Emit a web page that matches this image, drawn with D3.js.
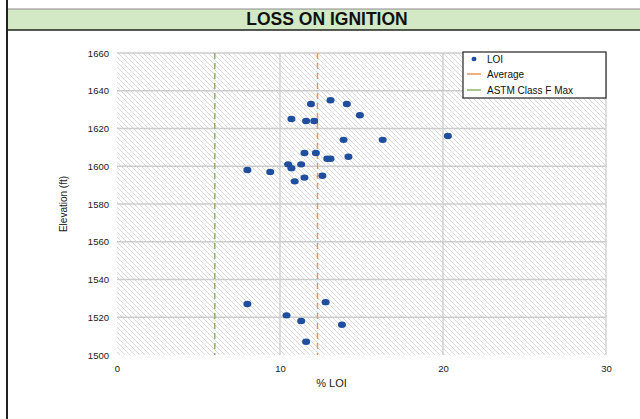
<!DOCTYPE html>
<html>
<head>
<meta charset="utf-8">
<script src="https://cdn.jsdelivr.net/npm/d3@7"></script>
<style>
  body { margin: 0; background: #ffffff; }
  svg { display: block; font-family: "Liberation Sans", Arial, sans-serif; }
</style>
</head>
<body>
<div id="chart"></div>
<script>
// LOI readings, % vs elevation (ft)
const loiValues = [11.9, 13.1, 14.1, 14.9, 10.7, 11.6, 12.1, 13.9, 16.3, 20.3,
    11.5, 12.2, 12.9, 13.1, 14.2, 10.5, 10.7, 11.3, 8.0, 9.4, 11.5, 12.6, 10.9,
    8.0, 12.8, 10.4, 11.3, 13.8, 11.6];
const elevations = [1633, 1635, 1633, 1627, 1625, 1624, 1624, 1614, 1614, 1616,
    1607, 1607, 1604, 1604, 1605, 1601, 1599, 1601, 1598, 1597, 1594, 1595, 1592,
    1527, 1528, 1521, 1518, 1516, 1507];
const averageLoi = [12.3];
const astmClassFMax = [6];
const xTicks = [0, 10, 20, 30];
const yTicks = [1500, 1520, 1540, 1560, 1580, 1600, 1620, 1640, 1660];
const legendLabels = ['LOI', 'Average', 'ASTM Class F Max'];

const width = 640, height = 419;
const plotLeft = 117, plotRight = 606, plotTop = 53, plotBottom = 355;

let svg = d3.select('#chart').append('svg')
    .attr('width', width)
    .attr('height', height);

// hatch pattern for the plot background
let defs = svg.append('defs');
let pat = defs.append('pattern')
    .attr('id', 'hatch')
    .attr('patternUnits', 'userSpaceOnUse')
    .attr('width', 5)
    .attr('height', 5);
pat.append('rect').attr('width', 5).attr('height', 5).attr('fill', '#ffffff');
pat.append('path')
    .attr('d', 'M-1,-1 L6,6 M-1,4 L1,6 M4,-1 L6,1')
    .attr('stroke', '#cfcfcf')
    .attr('stroke-width', 0.8);

// title band
svg.append('rect')
    .attr('x', 8).attr('y', 9)
    .attr('width', width - 8).attr('height', 21)
    .attr('fill', '#d3e8c4');
svg.append('line')
    .attr('x1', 8).attr('x2', width).attr('y1', 9).attr('y2', 9)
    .attr('stroke', '#8a8a8a').attr('stroke-width', 1);
svg.append('line')
    .attr('x1', 8).attr('x2', width).attr('y1', 30).attr('y2', 30)
    .attr('stroke', '#222').attr('stroke-width', 1.5);
svg.append('line')
    .attr('x1', 7).attr('x2', 7).attr('y1', 0).attr('y2', height)
    .attr('stroke', '#222').attr('stroke-width', 2);
svg.append('text')
    .attr('x', 327).attr('y', 25)
    .attr('text-anchor', 'middle')
    .attr('font-size', 17.5)
    .attr('font-weight', 'bold')
    .attr('fill', '#111')
    .text('LOSS ON IGNITION');

let x = d3.scaleLinear().domain([0, 30]).range([plotLeft, plotRight]);
let y = d3.scaleLinear().domain([1500, 1660]).range([plotBottom, plotTop]);

// plot area
svg.append('rect')
    .attr('x', plotLeft).attr('y', plotTop)
    .attr('width', plotRight - plotLeft).attr('height', plotBottom - plotTop)
    .attr('fill', 'url(#hatch)');

// gridlines
svg.append('g')
    .selectAll('line')
    .data(yTicks.filter(d => d > 1500))
    .enter().append('line')
    .attr('x1', plotLeft).attr('x2', plotRight)
    .attr('y1', d => y(d)).attr('y2', d => y(d))
    .attr('stroke', '#cccccc').attr('stroke-width', 1.3);
svg.append('g')
    .selectAll('line')
    .data(xTicks.filter(d => d > 0))
    .enter().append('line')
    .attr('x1', d => x(d)).attr('x2', d => x(d))
    .attr('y1', plotTop).attr('y2', plotBottom)
    .attr('stroke', '#cccccc').attr('stroke-width', 1.3);

// axes (labels only)
let yAxis = svg.append('g')
    .attr('transform', 'translate(' + (plotLeft - 8) + ',0)')
    .call(d3.axisLeft(y).tickValues(yTicks).tickFormat(d3.format('d')).tickSize(0).tickPadding(0));
let xAxis = svg.append('g')
    .attr('transform', 'translate(0,' + (plotBottom + 10) + ')')
    .call(d3.axisBottom(x).tickValues(xTicks).tickFormat(d3.format('d')).tickSize(0).tickPadding(0));
[yAxis, xAxis].forEach(function (a) {
    a.select('.domain').remove();
    a.selectAll('text')
        .attr('font-size', 9.5)
        .attr('font-family', '"Liberation Sans", Arial, sans-serif')
        .attr('fill', '#1a1a1a');
});
xAxis.selectAll('text').attr('dy', '0.71em');

svg.append('text')
    .attr('transform', 'translate(67,' + ((plotTop + plotBottom) / 2) + ') rotate(-90)')
    .attr('text-anchor', 'middle')
    .attr('font-size', 10)
    .attr('fill', '#1a1a1a')
    .text('Elevation (ft)');
svg.append('text')
    .attr('x', (plotLeft + plotRight) / 2 - 30).attr('y', 387)
    .attr('text-anchor', 'middle')
    .attr('font-size', 11)
    .attr('fill', '#1a1a1a')
    .text('% LOI');

// reference lines
svg.append('line')
    .attr('x1', x(astmClassFMax[0])).attr('x2', x(astmClassFMax[0]))
    .attr('y1', plotTop).attr('y2', plotBottom)
    .attr('stroke', '#8fb26a').attr('stroke-width', 1.5)
    .attr('stroke-dasharray', '6,4');
svg.append('line')
    .attr('x1', x(averageLoi[0])).attr('x2', x(averageLoi[0]))
    .attr('y1', plotTop).attr('y2', plotBottom)
    .attr('stroke', '#e8965a').attr('stroke-width', 1.5)
    .attr('stroke-dasharray', '6,4');

// points
let points = loiValues.map((v, i) => ({ loi: v, elev: elevations[i] }));
svg.append('g')
    .selectAll('ellipse')
    .data(points)
    .enter().append('ellipse')
    .attr('cx', d => x(d.loi))
    .attr('cy', d => y(d.elev))
    .attr('rx', 4)
    .attr('ry', 3.2)
    .attr('fill', '#1f4e9e');

// legend
let lg = svg.append('g').attr('transform', 'translate(463,52)');
lg.append('rect')
    .attr('width', 143).attr('height', 46)
    .attr('fill', '#ffffff')
    .attr('stroke', '#222').attr('stroke-width', 1.2);
lg.append('ellipse')
    .attr('cx', 11).attr('cy', 7)
    .attr('rx', 2.5).attr('ry', 2.3)
    .attr('fill', '#1f4e9e');
lg.append('line')
    .attr('x1', 4).attr('x2', 18).attr('y1', 22).attr('y2', 22)
    .attr('stroke', '#e8965a').attr('stroke-width', 1.5);
lg.append('line')
    .attr('x1', 4).attr('x2', 18).attr('y1', 38).attr('y2', 38)
    .attr('stroke', '#8fb26a').attr('stroke-width', 1.5);
lg.selectAll('text.lbl')
    .data(legendLabels)
    .enter().append('text')
    .attr('class', 'lbl')
    .attr('x', 24)
    .attr('y', (d, i) => 10.5 + i * 15.5)
    .attr('font-size', 10)
    .attr('fill', '#111')
    .text(d => d);
</script>
</body>
</html>
